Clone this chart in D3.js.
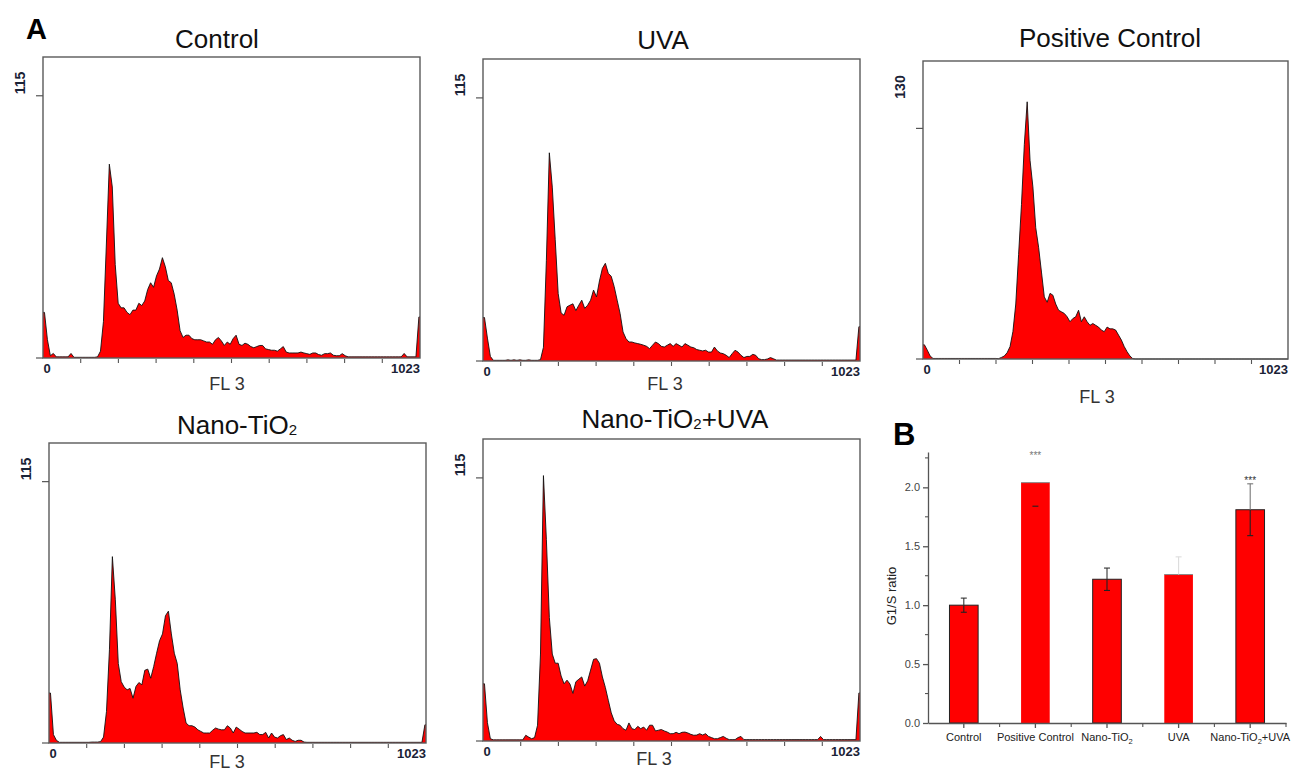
<!DOCTYPE html>
<html>
<head>
<meta charset="utf-8">
<script src="https://cdn.jsdelivr.net/npm/d3@7"></script>
<style>
  body { margin: 0; background: #fff; }
  svg { display: block; font-family: "Liberation Sans", Arial, sans-serif; }
</style>
</head>
<body>
<div id="chart"></div>
<script>
// ---- data: FL3 histograms, counts per 8-channel bin (128 bins, 0..1023) ----
const binWidth = 8;

const controlCounts = [
  20, 8, 1, 2, 0.5, 0.5, 0.5, 0.5, 0.5, 2,
  0.3, 0.3, 0.3, 0.3, 0.3, 0.3, 0.3, 0.3, 0.5, 3,
  16, 50, 85, 75, 41, 24, 22, 22, 20, 19,
  21, 21, 24, 23, 25, 30, 33, 31, 36, 39,
  44, 40, 34, 33, 28, 21, 12, 9, 10, 10,
  8.5, 8, 8, 8, 7.5, 7, 7, 6, 8, 9,
  7.5, 5.5, 7, 6, 8.5, 10, 6, 5.5, 6.5, 6,
  5, 4.5, 5, 5.5, 5.5, 4, 3.7, 3.4, 3.4, 3,
  4, 5, 2.6, 2.2, 2.2, 2.2, 2.2, 2.6, 2.2, 1.9,
  1.6, 2.2, 2.2, 1.5, 1.2, 1.9, 1.9, 2.2, 1.2, 1,
  1, 1.9, 1, 0.5, 0.5, 0.5, 0.5, 0.5, 0.5, 0.5,
  0.5, 0.5, 0.5, 0.5, 0.5, 0.5, 0.5, 0.5, 0.5, 0.5,
  0.5, 0.5, 2, 0.5, 0.5, 0.5, 0.5, 18
];

const uvaCounts = [
  19, 10, 2, 0.3, 0.3, 0.3, 0.3, 0.3, 0.5, 0.3,
  0.5, 0.3, 0.5, 0.3, 0.3, 0.5, 0.3, 0.3, 0.3, 0.6,
  6, 44, 91, 76, 53, 29.5, 21, 20, 23.7, 24.4,
  25, 22, 24.4, 26.6, 23, 24.4, 26.6, 31, 28, 35,
  40.5, 42.7, 38.3, 37, 32.5, 26.6, 20.8, 12.7, 9.8, 8.3,
  8.3, 7.9, 7.6, 7.3, 6.9, 6.4, 5.4, 6.9, 8.3, 7.6,
  6.4, 6.1, 6.9, 7.6, 6.4, 7.6, 6.9, 6.1, 7.6, 6.9,
  6.1, 5.8, 5, 4.7, 4.4, 4.7, 3.9, 3.9, 6.1, 4.4,
  3.5, 3.2, 2.5, 1.5, 3.2, 4.7, 3.9, 2.5, 1.5, 2,
  2, 2.9, 2.5, 1, 0.6, 0.6, 0.9, 1.5, 1, 0.4,
  0.4, 0.4, 0.4, 0.4, 0.4, 0.4, 0.4, 0.4, 0.4, 0.4,
  0.4, 0.4, 0.4, 0.4, 0.4, 0.4, 0.4, 0.4, 0.4, 0.4,
  0.4, 0.4, 0.4, 0.4, 0.4, 0.4, 0.4, 15
];

const positiveCounts = [
  8, 5, 1.7, 0.3, 0.3, 0.3, 0.3, 0.3, 0.3, 0.3,
  0.3, 0.3, 0.3, 0.3, 0.3, 0.3, 0.3, 0.3, 0.3, 0.3,
  0.3, 0.3, 0.3, 0.3, 0.3, 0.3, 0.2, 0.9, 1.7, 3.6,
  7, 15.4, 31, 59, 87, 121, 145, 112, 97, 74,
  63, 49, 35, 32, 37, 36, 31, 27.5, 26.6, 25.7,
  23.8, 21, 22.8, 23.8, 27.5, 21, 23.8, 21, 19, 20,
  19, 18, 16.3, 15.4, 18, 17, 17, 16.3, 13.5, 10.7,
  7, 4.1, 1.7, 0.2, 0, 0, 0, 0, 0, 0,
  0, 0, 0, 0, 0, 0, 0, 0, 0, 0,
  0, 0, 0, 0, 0, 0, 0, 0, 0, 0,
  0, 0, 0, 0, 0, 0, 0, 0, 0, 0,
  0, 0, 0, 0, 0, 0, 0, 0, 0, 0,
  0, 0, 0, 0, 0, 0, 0, 0
];

const nanoCounts = [
  22, 3.7, 1.2, 0.3, 0.3, 0.3, 0.3, 0.3, 0.3, 0.3,
  0.3, 0.3, 0.3, 0.3, 0.4, 0.4, 0.4, 0.6, 2.6, 13.9,
  41, 82, 63, 35, 27, 24.6, 23.4, 24, 19.7, 24.9,
  26.6, 25.6, 32, 32.5, 28.5, 33.6, 39.5, 45, 48, 56,
  58, 48, 39.5, 35, 23.4, 15.4, 8.8, 7.6, 7.6, 7,
  5.8, 5.1, 4.4, 4.4, 4.4, 5.6, 6.6, 6.1, 5.8, 5.8,
  7.6, 6.6, 4.4, 7, 6.1, 5.1, 4.4, 4.4, 4.4, 4.4,
  4.7, 3.7, 3.7, 4.7, 2.2, 4.4, 2.6, 2.2, 3.2, 3.7,
  1.5, 2.2, 1.2, 0.7, 1.2, 1.2, 0.4, 0.3, 0.3, 0.3,
  0.3, 0.3, 0.3, 0.3, 0.3, 0.3, 0.3, 0.3, 0.3, 0.3,
  0.3, 0.3, 0.3, 0.3, 0.3, 0.3, 0.3, 0.3, 0.3, 0.3,
  0.3, 0.3, 0.3, 0.3, 0.3, 0.3, 0.3, 0.3, 0.3, 0.3,
  0.3, 0.3, 0.3, 0.3, 0.3, 0.3, 0.3, 8
];

const nanoUvaCounts = [
  25, 8, 1, 0.5, 0.5, 0.5, 0.5, 0.5, 0.5, 0.5,
  0.5, 0.5, 0.5, 0.5, 2.5, 1.7, 1, 1.5, 6.9, 38,
  116, 88, 54, 38, 34, 34, 28.4, 25, 26.6, 24.9,
  20.8, 25.9, 27, 28, 24, 26.3, 31, 35.7, 36, 34,
  28, 23.4, 17.8, 12.3, 8.8, 7.3, 6.9, 5.4, 4.7, 7.9,
  5.4, 5, 6.4, 5.4, 6.1, 4.7, 6.9, 6.9, 4.4, 4.7,
  5, 4.4, 3.9, 3.2, 3.2, 3.8, 3.2, 3.8, 3.9, 3.5,
  2.9, 2.5, 2.6, 3.2, 2.6, 3.2, 2, 1.5, 1, 1,
  1.5, 2, 1.2, 0.6, 0.6, 0.6, 1.5, 2, 0.6, 0.6,
  0.6, 0.6, 0.6, 0.6, 0.6, 0.6, 0.6, 0.6, 0.6, 0.6,
  0.6, 0.6, 0.6, 0.6, 0.6, 0.6, 0.6, 0.6, 0.6, 0.6,
  0.6, 0.6, 0.6, 0.6, 2, 0.6, 0.6, 0.6, 0.6, 0.6,
  0.6, 0.6, 0.6, 0.6, 0.6, 0.6, 0.6, 21
];

const histTitles = ["Control", "UVA", "Positive Control", "Nano-TiO2", "Nano-TiO2+UVA"];
const histSeries = [controlCounts, uvaCounts, positiveCounts, nanoCounts, nanoUvaCounts];
const histYMax = [132, 132, 168, 132, 132];
const histYTick = [115, 115, 130, 115, 115];
const xTickLabels = ["0", "1023"];

// ---- data: G1/S ratio bar chart ----
const barCats = ["Control", "Positive Control", "Nano-TiO2", "UVA", "Nano-TiO2+UVA"];
const barVals = [1.00, 2.04, 1.22, 1.26, 1.81];
const barErr = [0.06, 0.20, 0.095, 0.15, 0.22];
const barStars = ["", "***", "", "", "***"];
const barTicks = [0, 0.5, 1.0, 1.5, 2.0];

// ---- layout ----
const W = 1295, H = 773;
const panels = [
  { x: 43, y: 57, w: 377, h: 301, tx: 217, ty: 48, fx: 227, fy: 390 },
  { x: 483, y: 59, w: 377, h: 302, tx: 663, ty: 49, fx: 665, fy: 390 },
  { x: 923, y: 61, w: 365, h: 298, tx: 1110, ty: 47, fx: 1097, fy: 403 },
  { x: 49, y: 443, w: 377, h: 300, tx: 237, ty: 434, fx: 227, fy: 768 },
  { x: 483, y: 439, w: 377, h: 302, tx: 675, ty: 428, fx: 654, fy: 765 }
];
const red = "#ff0000";

const svg = d3.select("#chart").append("svg")
  .attr("width", W)
  .attr("height", H);
svg.append("rect").attr("width", W).attr("height", H).attr("fill", "#fff");

// writes "TiO2" with a subscript 2
function subText(sel, str, subSize, dy) {
  const parts = str.split(/(?<=TiO)2/);
  parts.forEach((p, k) => {
    if (k > 0) {
      sel.append("tspan").attr("font-size", subSize).attr("dy", dy).text("2");
      sel.append("tspan").attr("dy", -dy).text(p);
    } else {
      sel.append("tspan").text(p);
    }
  });
}

// panel letters
svg.append("text").attr("x", 26).attr("y", 39)
  .attr("font-size", 29).attr("font-weight", "bold").text("A");
svg.append("text").attr("x", 893).attr("y", 445)
  .attr("font-size", 31).attr("font-weight", "bold").text("B");

// ---- histograms ----
histSeries.forEach((counts, i) => {
  const P = panels[i];
  const g = svg.append("g");

  const x = d3.scaleLinear().domain([0, 1023]).range([P.x, P.x + P.w]);
  const y = d3.scaleLinear().domain([0, histYMax[i]]).range([P.y + P.h, P.y]);

  const pts = counts.map((v, j) => [j * binWidth + binWidth / 2, v]);
  pts.unshift([0, counts[0]]);
  pts.push([1023, counts[counts.length - 1]]);

  g.append("path")
    .datum(pts)
    .attr("fill", red)
    .attr("d", d3.area().x(d => x(d[0])).y0(y(0)).y1(d => y(d[1])));
  g.append("path")
    .datum(pts)
    .attr("fill", "none")
    .attr("stroke", "#111")
    .attr("stroke-width", 0.9)
    .attr("stroke-linejoin", "round")
    .attr("d", d3.line().x(d => x(d[0])).y(d => y(d[1])));

  // frame
  g.append("rect")
    .attr("x", P.x).attr("y", P.y)
    .attr("width", P.w).attr("height", P.h)
    .attr("fill", "none")
    .attr("stroke", "#5a5a5a")
    .attr("stroke-width", 1.4);

  // y ticks (0 and top tick)
  [0, histYTick[i]].forEach(t => {
    g.append("line")
      .attr("x1", P.x - 7).attr("x2", P.x)
      .attr("y1", y(t)).attr("y2", y(t))
      .attr("stroke", "#555").attr("stroke-width", 1.2);
  });
  g.append("text")
    .attr("transform", `translate(${P.x - 18},${P.y + 26}) rotate(-90)`)
    .attr("text-anchor", "middle")
    .attr("font-size", 14).attr("font-weight", "bold")
    .attr("fill", "#1a2236")
    .text(histYTick[i]);

  // x minor ticks at tenths of the range
  d3.range(1, 10).forEach(k => {
    const xx = x(1023 * k / 10);
    g.append("line")
      .attr("x1", xx).attr("x2", xx)
      .attr("y1", y(0) + 1).attr("y2", y(0) + 5)
      .attr("stroke", "#555").attr("stroke-width", 1.1);
  });
  g.append("text")
    .attr("x", x(0) + 4).attr("y", y(0) + 15)
    .attr("text-anchor", "middle")
    .attr("font-size", 13).attr("font-weight", "bold").attr("fill", "#1a2236")
    .text(xTickLabels[0]);
  g.append("text")
    .attr("x", x(1023)).attr("y", y(0) + 15)
    .attr("text-anchor", "end")
    .attr("font-size", 13).attr("font-weight", "bold").attr("fill", "#1a2236")
    .text(xTickLabels[1]);

  g.append("text")
    .attr("x", P.fx).attr("y", P.fy)
    .attr("text-anchor", "middle")
    .attr("font-size", 18).attr("fill", "#333")
    .text("FL 3");

  const title = g.append("text")
    .attr("x", P.tx).attr("y", P.ty)
    .attr("text-anchor", "middle")
    .attr("font-size", 26).attr("fill", "#111");
  subText(title, histTitles[i], 15, 1);
});

// ---- bar chart B ----
const B = { l: 928, r: 1286, b: 723, t: 452 };
const xb = d3.scaleBand().domain(barCats).range([B.l, B.r]).padding(0);
const yb = d3.scaleLinear().domain([0, 2.3]).range([B.b, B.t]);
const gb = svg.append("g");

const outlined = [true, false, true, false, true];
const bw = xb.bandwidth() * 0.4;

barCats.forEach((c, i) => {
  const cx = xb(c) + xb.bandwidth() / 2;
  gb.append("rect")
    .attr("x", cx - bw / 2).attr("y", yb(barVals[i]))
    .attr("width", bw).attr("height", yb(0) - yb(barVals[i]))
    .attr("fill", red)
    .attr("stroke", outlined[i] ? "#222" : "none")
    .attr("stroke-width", 1);
  if (!outlined[i]) {
    gb.append("line")
      .attr("x1", cx - bw / 2).attr("x2", cx + bw / 2)
      .attr("y1", yb(barVals[i])).attr("y2", yb(barVals[i]))
      .attr("stroke", "#888").attr("stroke-width", 1);
  }
});

// error bars
function errPart(cx, v0, v1, color) {
  gb.append("line")
    .attr("x1", cx).attr("x2", cx)
    .attr("y1", yb(v0)).attr("y2", yb(v1))
    .attr("stroke", color).attr("stroke-width", 1.1);
  gb.append("line")
    .attr("x1", cx - 3).attr("x2", cx + 3)
    .attr("y1", yb(v1)).attr("y2", yb(v1))
    .attr("stroke", color).attr("stroke-width", 1.1);
}
barCats.forEach((c, i) => {
  const cx = xb(c) + xb.bandwidth() / 2;
  const v = barVals[i], e = barErr[i];
  if (i === 1) {
    // only the lower cap shows on this bar
    gb.append("line")
      .attr("x1", cx - 3).attr("x2", cx + 3)
      .attr("y1", yb(v - e)).attr("y2", yb(v - e))
      .attr("stroke", "#222").attr("stroke-width", 1.1);
  } else if (i === 3) {
    errPart(cx, v, v + e, "#dcdcdc");
  } else {
    errPart(cx, v, v - e, "#222");
    errPart(cx, v, v + e, i === 4 ? "#777" : "#333");
  }
  if (barStars[i]) {
    gb.append("text")
      .attr("x", cx).attr("y", yb(v + e))
      .attr("text-anchor", "middle")
      .attr("font-size", 10)
      .attr("fill", i === 1 ? "#777" : "#333")
      .text(barStars[i]);
  }
});

// y axis
const yAxis = gb.append("g")
  .attr("transform", `translate(${B.l},0)`)
  .call(d3.axisLeft(yb).tickValues(barTicks).tickFormat(d3.format(".1f"))
    .tickSize(5).tickSizeOuter(0).tickPadding(3));
yAxis.selectAll("text").attr("font-size", 11).attr("fill", "#444")
  .attr("font-family", "Liberation Sans, Arial, sans-serif");
yAxis.selectAll("line, path").attr("stroke", "#555").attr("stroke-width", 1.3);
d3.range(0.25, 2.3, 0.5).forEach(t => {
  gb.append("line")
    .attr("x1", B.l - 3).attr("x2", B.l)
    .attr("y1", yb(t)).attr("y2", yb(t))
    .attr("stroke", "#555").attr("stroke-width", 1.1);
});

// x axis
const xAxis = gb.append("g")
  .attr("transform", `translate(0,${B.b})`)
  .call(d3.axisBottom(xb).tickFormat("").tickSize(5).tickSizeOuter(0));
xAxis.selectAll("line, path").attr("stroke", "#555").attr("stroke-width", 1.3);
barCats.slice(1).forEach(c => {
  gb.append("line")
    .attr("x1", xb(c)).attr("x2", xb(c))
    .attr("y1", B.b).attr("y2", B.b + 4)
    .attr("stroke", "#555").attr("stroke-width", 1.1);
});
gb.append("line")
  .attr("x1", B.r).attr("x2", B.r)
  .attr("y1", B.b).attr("y2", B.b + 4)
  .attr("stroke", "#555").attr("stroke-width", 1.1);

barCats.forEach(c => {
  const t = gb.append("text")
    .attr("x", xb(c) + xb.bandwidth() / 2)
    .attr("y", B.b + 18)
    .attr("text-anchor", "middle")
    .attr("font-size", 11).attr("fill", "#222");
  subText(t, c, 7.5, 3);
});

gb.append("text")
  .attr("transform", `translate(${896},${596}) rotate(-90)`)
  .attr("text-anchor", "middle")
  .attr("font-size", 13).attr("fill", "#222")
  .text("G1/S ratio");
</script>
</body>
</html>
